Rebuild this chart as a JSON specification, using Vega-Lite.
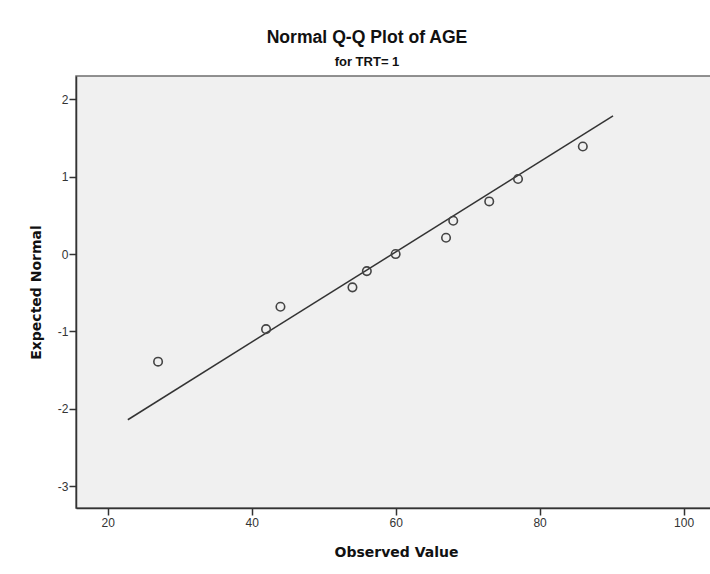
{
  "$schema": "https://vega.github.io/schema/vega-lite/v6.json",
  "autosize": "none",
  "width": 640,
  "height": 432,
  "padding": {"left": 76, "top": 76, "right": 0, "bottom": 66},
  "background": "white",
  "title": {
    "text": "Normal Q-Q Plot of AGE",
    "subtitle": "for TRT= 1",
    "anchor": "middle",
    "dx": -29,
    "offset": 7,
    "font": "Liberation Sans",
    "fontSize": 17.6,
    "fontWeight": "bold",
    "color": "#111",
    "subtitleFont": "Liberation Sans",
    "subtitleFontSize": 13,
    "subtitleFontWeight": "bold",
    "subtitleColor": "#111",
    "subtitlePadding": 9
  },
  "config": {
    "view": {"fill": "#f0f0f0", "stroke": "#6e6e6e", "strokeWidth": 1.5},
    "axis": {
      "grid": false,
      "domainColor": "#333",
      "domainWidth": 1.5,
      "tickColor": "#333",
      "tickWidth": 1.5,
      "tickSize": 7,
      "labelFont": "Liberation Sans",
      "labelFontSize": 12,
      "labelColor": "#333",
      "labelExpr": "'' + datum.value",
      "titleFont": "DejaVu Sans",
      "titleFontSize": 14,
      "titleFontWeight": "bold",
      "titleColor": "#111"
    }
  },
  "datasets": {
    "points": [
      {"observed": 27, "expected": -1.39},
      {"observed": 42, "expected": -0.97},
      {"observed": 44, "expected": -0.68},
      {"observed": 54, "expected": -0.43},
      {"observed": 56, "expected": -0.22},
      {"observed": 60, "expected": 0.0},
      {"observed": 67, "expected": 0.21},
      {"observed": 68, "expected": 0.43},
      {"observed": 73, "expected": 0.68},
      {"observed": 77, "expected": 0.97},
      {"observed": 86, "expected": 1.39}
    ],
    "refline": [
      {"observed": 22.8, "expected": -2.14},
      {"observed": 90.2, "expected": 1.785}
    ]
  },
  "layer": [
    {
      "data": {"name": "refline"},
      "mark": {"type": "line", "color": "#333", "strokeWidth": 1.5, "clip": true},
      "encoding": {
        "x": {
          "field": "observed",
          "type": "quantitative",
          "scale": {"domain": [15.6, 104.5], "nice": false, "zero": false},
          "axis": {
            "title": "Observed Value",
            "values": [20, 40, 60, 80, 100],
            "labelPadding": 2,
            "titlePadding": 17
          }
        },
        "y": {
          "field": "expected",
          "type": "quantitative",
          "scale": {"domain": [-3.28, 2.3], "nice": false, "zero": false},
          "axis": {
            "title": "Expected Normal",
            "values": [-3, -2, -1, 0, 1, 2],
            "labelPadding": 1,
            "titlePadding": 14
          }
        }
      }
    },
    {
      "data": {"name": "points"},
      "mark": {"type": "point", "shape": "circle", "filled": false, "size": 72, "stroke": "#444", "strokeWidth": 1.6, "opacity": 1},
      "encoding": {
        "x": {"field": "observed", "type": "quantitative"},
        "y": {"field": "expected", "type": "quantitative"}
      }
    }
  ]
}
